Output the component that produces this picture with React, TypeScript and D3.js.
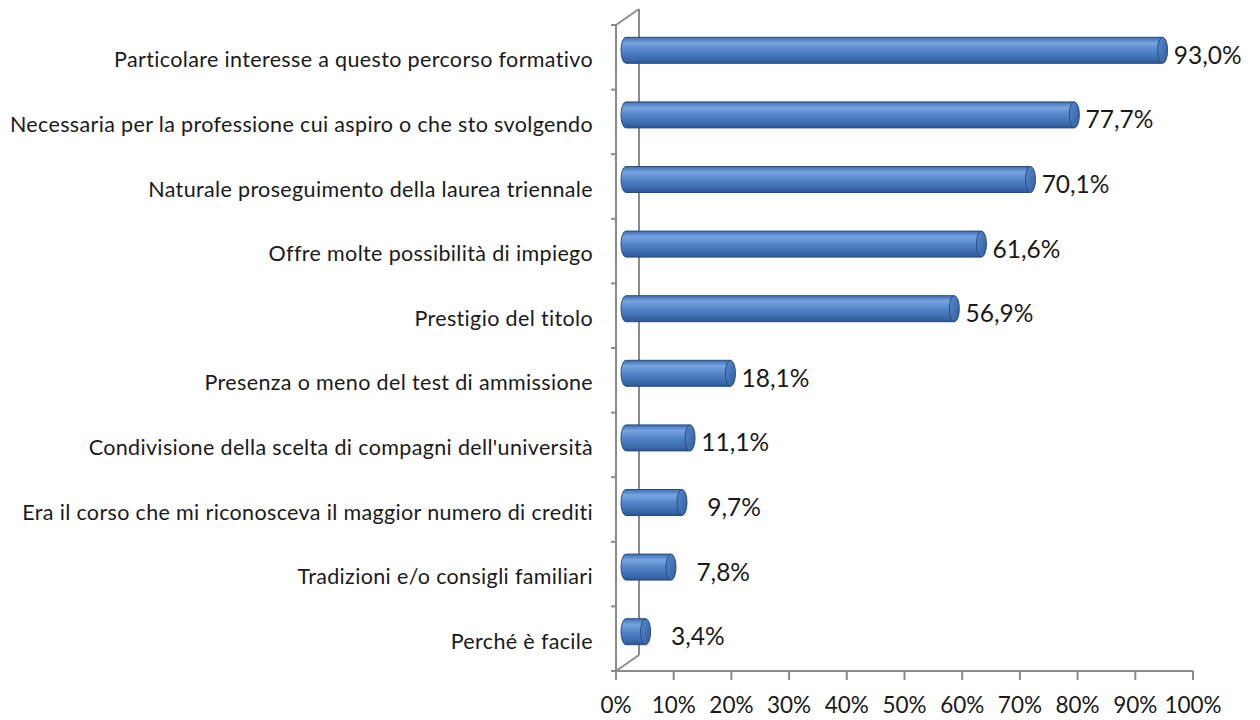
import React from "react";
import * as d3 from "d3";

const categories = [
  "Particolare interesse a questo percorso formativo",
  "Necessaria per la professione cui aspiro o che sto svolgendo",
  "Naturale proseguimento della laurea triennale",
  "Offre molte possibilità di impiego",
  "Prestigio del titolo",
  "Presenza o meno del test di ammissione",
  "Condivisione della scelta di compagni dell'università",
  "Era il corso che mi riconosceva il maggior numero di crediti",
  "Tradizioni e/o consigli familiari",
  "Perché è facile",
];
const values = [93.0, 77.7, 70.1, 61.6, 56.9, 18.1, 11.1, 9.7, 7.8, 3.4];
const tickValues = [0, 10, 20, 30, 40, 50, 60, 70, 80, 90, 100];

const W = 1260;
const H = 720;
const FONT = "Lato, 'Open Sans', sans-serif";

export default function App() {
  const x = d3.scaleLinear().domain([0, 100]).range([616, 1193]);
  const y = d3.scaleBand<string>().domain(categories).range([25, 671]).paddingInner(0).paddingOuter(0);
  const depthX = 23;
  const depthY = -16;
  const barOffX = 10;
  const barOffY = -7;
  const barH = 26;
  const rx = 5;
  const ry = barH / 2;
  const fmt = (v: number) => v.toFixed(1).replace(".", ",") + "%";
  const axisColor = "#8a8a8a";
  const x0 = x(0);
  const yTop = y.range()[0];
  const yBot = y.range()[1];

  return (
    <svg width={W} height={H} style={{ position: "absolute", left: 0, top: 0, background: "#fff" }}>
      <defs>
        <linearGradient id="barGrad" x1="0" y1="0" x2="0" y2="1">
          <stop offset="0%" stopColor="#3d6db0" />
          <stop offset="22%" stopColor="#78a4e0" />
          <stop offset="50%" stopColor="#5486ca" />
          <stop offset="85%" stopColor="#3a69ac" />
          <stop offset="100%" stopColor="#2a5590" />
        </linearGradient>
        <linearGradient id="capGrad" x1="0" y1="0" x2="1" y2="1">
          <stop offset="0%" stopColor="#5a8ad0" />
          <stop offset="100%" stopColor="#2f5d9c" />
        </linearGradient>
      </defs>
      <rect x={0} y={0} width={W} height={H} fill="#fff" />

      {/* 3D wall lines */}
      <g stroke={axisColor} strokeWidth={2} fill="none">
        <line x1={x0 + depthX} y1={yTop + depthY} x2={x0 + depthX} y2={yBot + depthY} />
        <line x1={x0} y1={yTop} x2={x0 + depthX} y2={yTop + depthY} />
        <line x1={x0} y1={yBot} x2={x0 + depthX} y2={yBot + depthY} />
        <line x1={x0} y1={yTop} x2={x0} y2={yBot} />
        <line x1={x0} y1={yBot} x2={x(100)} y2={yBot} />
        {categories.map((c, i) => (
          <line key={"lt" + i} x1={x0 - 5} x2={x0} y1={y(c)!} y2={y(c)!} />
        ))}
        <line x1={x0 - 5} x2={x0} y1={yBot} y2={yBot} />
        {tickValues.map((t) => (
          <line key={"bt" + t} x1={x(t)} x2={x(t)} y1={yBot} y2={yBot + 9} />
        ))}
      </g>

      {/* Bars */}
      {categories.map((c, i) => {
        const cy = y(c)! + y.bandwidth() / 2 + barOffY;
        const xs = x(0) + barOffX;
        const xe = x(values[i]) + barOffX;
        const top = cy - ry;
        const bot = cy + ry;
        const body = `M${xs},${top} L${xe},${top} L${xe},${bot} L${xs},${bot} A${rx},${ry} 0 0 1 ${xs},${top} Z`;
        return (
          <g key={"bar" + i}>
            <path d={body} fill="url(#barGrad)" stroke="#2a4c7c" strokeWidth={1} />
            <ellipse cx={xe} cy={cy} rx={rx} ry={ry} fill="url(#capGrad)" stroke="#2a4c7c" strokeWidth={1} />
          </g>
        );
      })}

      {/* Value labels */}
      {categories.map((c, i) => {
        const cy = y(c)! + y.bandwidth() / 2;
        return (
          <text
            key={"vl" + i}
            x={x(values[i]) + barOffX + rx + 74}
            y={cy + 6.5}
            textAnchor="end"
            fontFamily={FONT}
            fontSize={24.5}
            fill="#1a1a1a"
          >
            {fmt(values[i])}
          </text>
        );
      })}

      {/* Category labels */}
      {categories.map((c, i) => {
        const cy = y(c)! + y.bandwidth() / 2;
        return (
          <text
            key={"cl" + i}
            x={593}
            y={cy + 10}
            textAnchor="end"
            fontFamily={FONT}
            fontSize={21.5}
            letterSpacing={0.35}
            fill="#1a1a1a"
          >
            {c}
          </text>
        );
      })}

      {/* Tick labels */}
      {tickValues.map((t) => (
        <text
          key={"tl" + t}
          x={x(t)}
          y={713}
          textAnchor="middle"
          fontFamily={FONT}
          fontSize={22.5}
          fill="#1a1a1a"
        >
          {t + "%"}
        </text>
      ))}
    </svg>
  );
}
